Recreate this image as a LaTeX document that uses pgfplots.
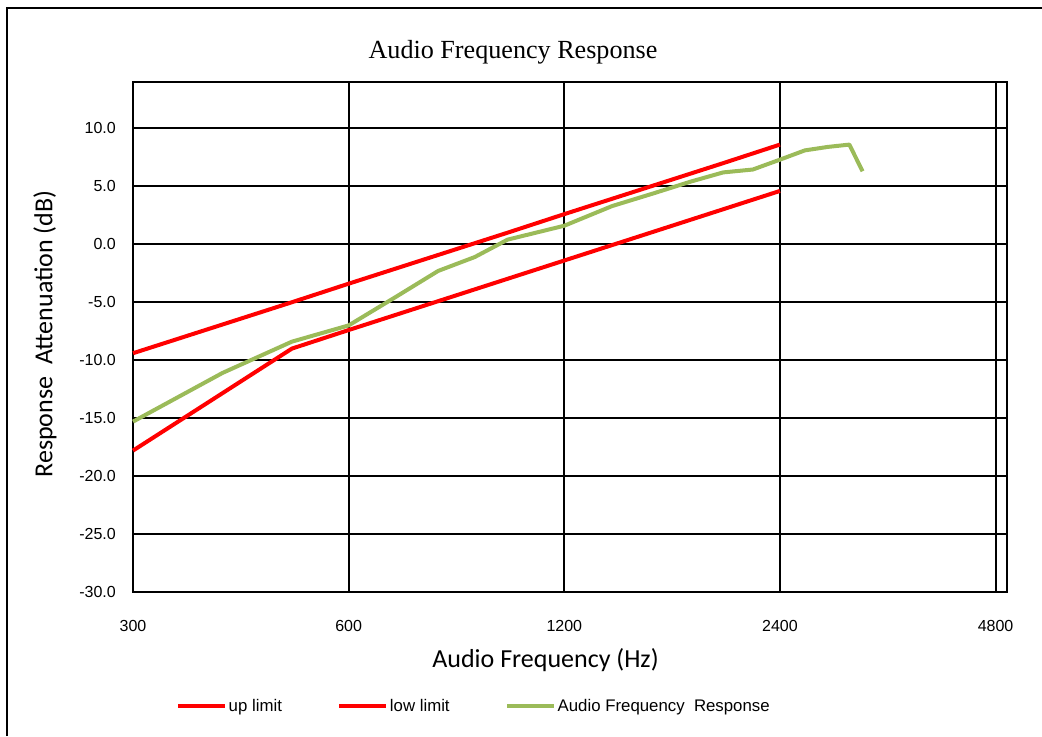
\documentclass[border=0pt]{standalone}
\usepackage{pgfplots}
\pgfplotsset{compat=1.18}
\usepackage{fontspec}
\setmainfont{Liberation Sans}
\newfontfamily\titlefont{Liberation Serif}
\newfontfamily\labelfont{Carlito}

\definecolor{afrgreen}{HTML}{9BBB59}
\definecolor{limitred}{HTML}{FF0000}

\begin{document}
\begin{tikzpicture}
  % picture frame: 1042 x 736 px at 0.75pt per px
  \useasboundingbox (0,0) rectangle (781.5pt,552pt);
  \draw[black, line width=1.5pt] (5.25pt,0pt) -- (5.25pt,546pt) -- (781.5pt,546pt);

  \node[font=\titlefont\fontsize{19.6}{23}\selectfont] at (384.75pt,513pt) {Audio Frequency Response};

  \begin{axis}[
    at={(99.75pt,108pt)}, anchor=south west,
    scale only axis,
    width=655.5pt, height=382.5pt,
    xmode=log, log basis x=2,
    xmin=300, xmax=4980,
    ymin=-30, ymax=14,
    xtick={300,600,1200,2400,4800},
    xticklabels={300,600,1200,2400,4800},
    ytick={-30,-25,...,10},
    grid=major,
    major grid style={black, line width=1.4pt},
    axis line style={black, line width=1.4pt},
    major tick length=0pt,
    tick label style={font=\fontsize{12}{14}\selectfont, inner sep=0pt},
    xticklabel style={anchor=center, yshift=-25.5pt},
    yticklabel style={anchor=east, xshift=-12.75pt},
    /pgf/number format/assume math mode=true,
    yticklabel={\pgfmathprintnumber[fixed, fixed zerofill, precision=1]{\tick}},
    legend columns=3,
    legend style={
      at={(0.390,-0.2235)}, anchor=center,
      draw=none, fill=none,
      font=\fontsize{12.6}{14}\selectfont,
      nodes={inner sep=1.5pt},
      /tikz/every even column/.append style={column sep=40pt},
    },
    legend image code/.code={\draw[#1] (0pt,0pt) -- (35pt,0pt);},
    clip=false,
  ]

    % up limit
    \addplot[limitred, line width=3pt, line join=round] coordinates {
      (300,-9.4) (500,-5.0) (600,-3.4) (1000,1.0) (1200,2.6) (2000,7.0) (2400,8.6)
    };
    \addlegendentry{up limit}

    % low limit
    \addplot[limitred, line width=3pt, line join=round] coordinates {
      (300,-17.8) (500,-9.0) (600,-7.4) (1200,-1.4) (2400,4.6)
    };
    \addlegendentry{low limit}

    % measured response
    \addplot[afrgreen, line width=3pt, line join=round] coordinates {
      (300,-15.3) (400,-11.1) (500,-8.4) (600,-7.0) (700,-4.5) (800,-2.3)
      (900,-1.1) (1000,0.4) (1200,1.6) (1400,3.3) (1600,4.4) (1800,5.4)
      (2000,6.2) (2200,6.45) (2400,7.3) (2600,8.1) (2800,8.4) (3000,8.6)
      (3130,6.3)
    };
    \addlegendentry{Audio Frequency\ \ Response}

    \node[font=\labelfont\fontsize{19.5}{23}\selectfont] at (axis description cs:0.472,-0.1333) {Audio Frequency (Hz)};
    \node[font=\labelfont\fontsize{19.5}{23}\selectfont, rotate=90] at (axis description cs:-0.1007,0.506) {Response\ \ Attenuation (dB)};
  \end{axis}
\end{tikzpicture}
\end{document}
